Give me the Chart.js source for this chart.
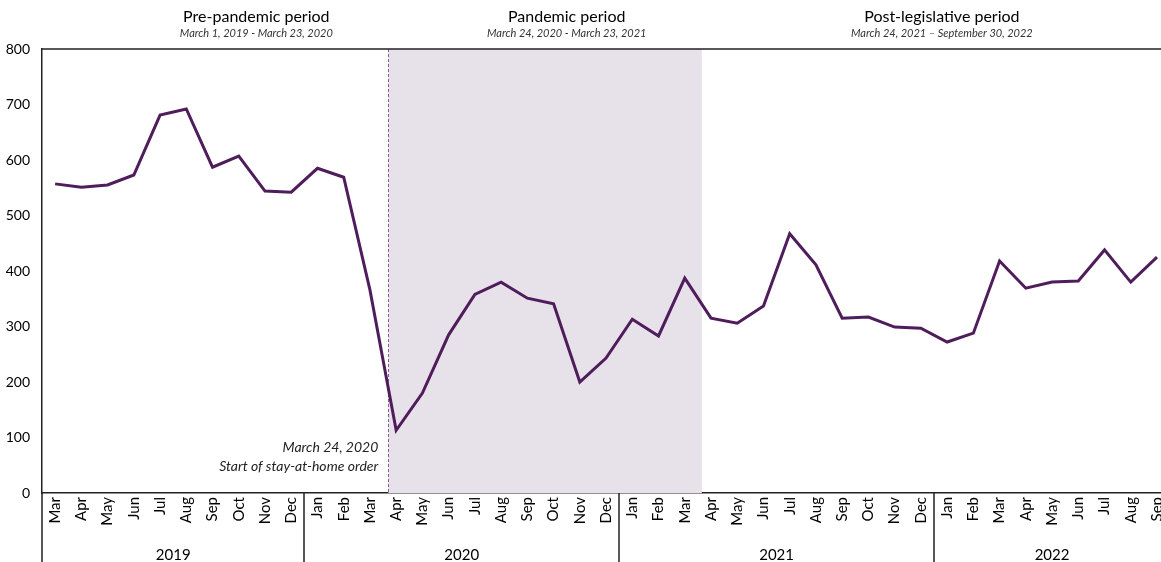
<!DOCTYPE html>
<html>
<head>
<meta charset="utf-8">
<script src="https://cdn.jsdelivr.net/npm/chart.js@4.4.0/dist/chart.umd.min.js"></script>
<style>
  html, body { margin: 0; padding: 0; overflow: hidden; background: #fff; }
  #myChart { display: block; }
</style>
</head>
<body>
<canvas id="myChart" width="1179" height="562"></canvas>
<script>
// months from March 2019 to September 2022
const months = [
  "Mar", "Apr", "May", "Jun", "Jul", "Aug", "Sep", "Oct", "Nov", "Dec",
  "Jan", "Feb", "Mar", "Apr", "May", "Jun", "Jul", "Aug", "Sep", "Oct", "Nov", "Dec",
  "Jan", "Feb", "Mar", "Apr", "May", "Jun", "Jul", "Aug", "Sep", "Oct", "Nov", "Dec",
  "Jan", "Feb", "Mar", "Apr", "May", "Jun", "Jul", "Aug", "Sep"
];
const counts = [
  557, 551, 555, 573, 681, 692, 587, 607, 544, 542,
  585, 569, 366, 113, 180, 285, 358, 380, 351, 341, 200, 243,
  313, 283, 387, 315, 306, 337, 467, 411, 315, 317, 299, 297,
  272, 288, 418, 369, 380, 382, 438, 380, 425
];
const years = ["2019", "2020", "2021", "2022"];
const yearStart = [0, 10, 22, 34];
const yearEnd = [9, 21, 33, 42];
const periodTitles = ["Pre-pandemic period", "Pandemic period", "Post-legislative period"];
const periodDates = ["March 1, 2019 - March 23, 2020", "March 24, 2020 - March 23, 2021", "March 24, 2021 \u2013 September 30, 2022"];
const periodCenter = [7.67, 19.5, 33.8];
const pandemicFrom = 12.7;
const pandemicTo = 24.65;
const noteLines = ["March 24, 2020", "Start of stay-at-home order"];

const FONT = "Lato, 'Open Sans', sans-serif";

const decor = {
  id: "decor",
  beforeDatasetsDraw(chart) {
    const { ctx, chartArea, scales } = chart;
    const x = scales.x;
    const x0 = x.getPixelForValue(pandemicFrom);
    const x1 = x.getPixelForValue(pandemicTo);
    ctx.save();
    ctx.fillStyle = "#e7e1e9";
    ctx.fillRect(x0, chartArea.top, x1 - x0, chartArea.bottom - chartArea.top);
    ctx.strokeStyle = "#8a5a95";
    ctx.lineWidth = 1;
    ctx.setLineDash([3, 2]);
    ctx.beginPath();
    ctx.moveTo(Math.round(x0) + 0.5, chartArea.top);
    ctx.lineTo(Math.round(x0) + 0.5, chartArea.bottom);
    ctx.stroke();
    ctx.restore();
  },
  afterDraw(chart) {
    const { ctx, chartArea, scales } = chart;
    const x = scales.x;
    const h = chart.height;
    ctx.save();
    ctx.strokeStyle = "#222";
    ctx.lineWidth = 1.5;
    ctx.beginPath();
    ctx.moveTo(chartArea.left, chartArea.top);
    ctx.lineTo(chartArea.right, chartArea.top);
    ctx.moveTo(chartArea.left, chartArea.bottom);
    ctx.lineTo(chartArea.left, h);
    for (let i = 1; i < years.length; i++) {
      const px = Math.round(x.getPixelForValue(yearStart[i] - 0.5));
      ctx.moveTo(px, chartArea.bottom);
      ctx.lineTo(px, h);
    }
    ctx.stroke();

    ctx.fillStyle = "#000";
    ctx.textAlign = "center";
    ctx.textBaseline = "middle";
    ctx.font = "15px " + FONT;
    years.forEach((y, i) => {
      ctx.fillText(y, x.getPixelForValue((yearStart[i] + yearEnd[i]) / 2), 555);
    });

    periodTitles.forEach((t, i) => {
      const cx = x.getPixelForValue(periodCenter[i]);
      ctx.font = "16px " + FONT;
      ctx.fillStyle = "#000";
      ctx.fillText(t, cx, 17);
      ctx.font = "italic 11px " + FONT;
      ctx.fillStyle = "#333";
      ctx.fillText(periodDates[i], cx, 33);
    });

    ctx.textAlign = "right";
    ctx.fillStyle = "#222";
    ctx.font = "italic 14px " + FONT;
    const nx = x.getPixelForValue(pandemicFrom) - 10;
    ctx.fillText(noteLines[0], nx, 447);
    ctx.fillText(noteLines[1], nx, 466);
    ctx.restore();
  }
};

const config = {
  type: "line",
  data: {
    labels: months,
    datasets: [{
      data: counts,
      borderColor: "#4f1d5b",
      borderWidth: 3,
      pointRadius: 0,
      tension: 0,
      fill: false
    }]
  },
  options: {
    responsive: false,
    animation: false,
    devicePixelRatio: 1,
    layout: { padding: { top: 49, left: 0, right: 0, bottom: 0 } },
    plugins: { legend: { display: false }, tooltip: { enabled: false } },
    scales: {
      x: {
        offset: true,
        grid: { display: false, drawTicks: false },
        border: { display: true, color: "#222", width: 1.5 },
        ticks: {
          autoSkip: false, minRotation: 90, maxRotation: 90,
          color: "#000", font: { size: 15, family: FONT }, padding: 4
        },
        afterFit(scale) { scale.height = 69; }
      },
      y: {
        min: 0, max: 800,
        grid: { display: false, drawTicks: false },
        border: { display: true, color: "#222", width: 1.5 },
        ticks: { stepSize: 100, color: "#000", font: { size: 14, family: FONT }, padding: 12 },
        afterFit(scale) { scale.width = 42; }
      }
    }
  },
  plugins: [decor]
};

const myChart = new Chart(document.getElementById("myChart"), config);
</script>
</body>
</html>
